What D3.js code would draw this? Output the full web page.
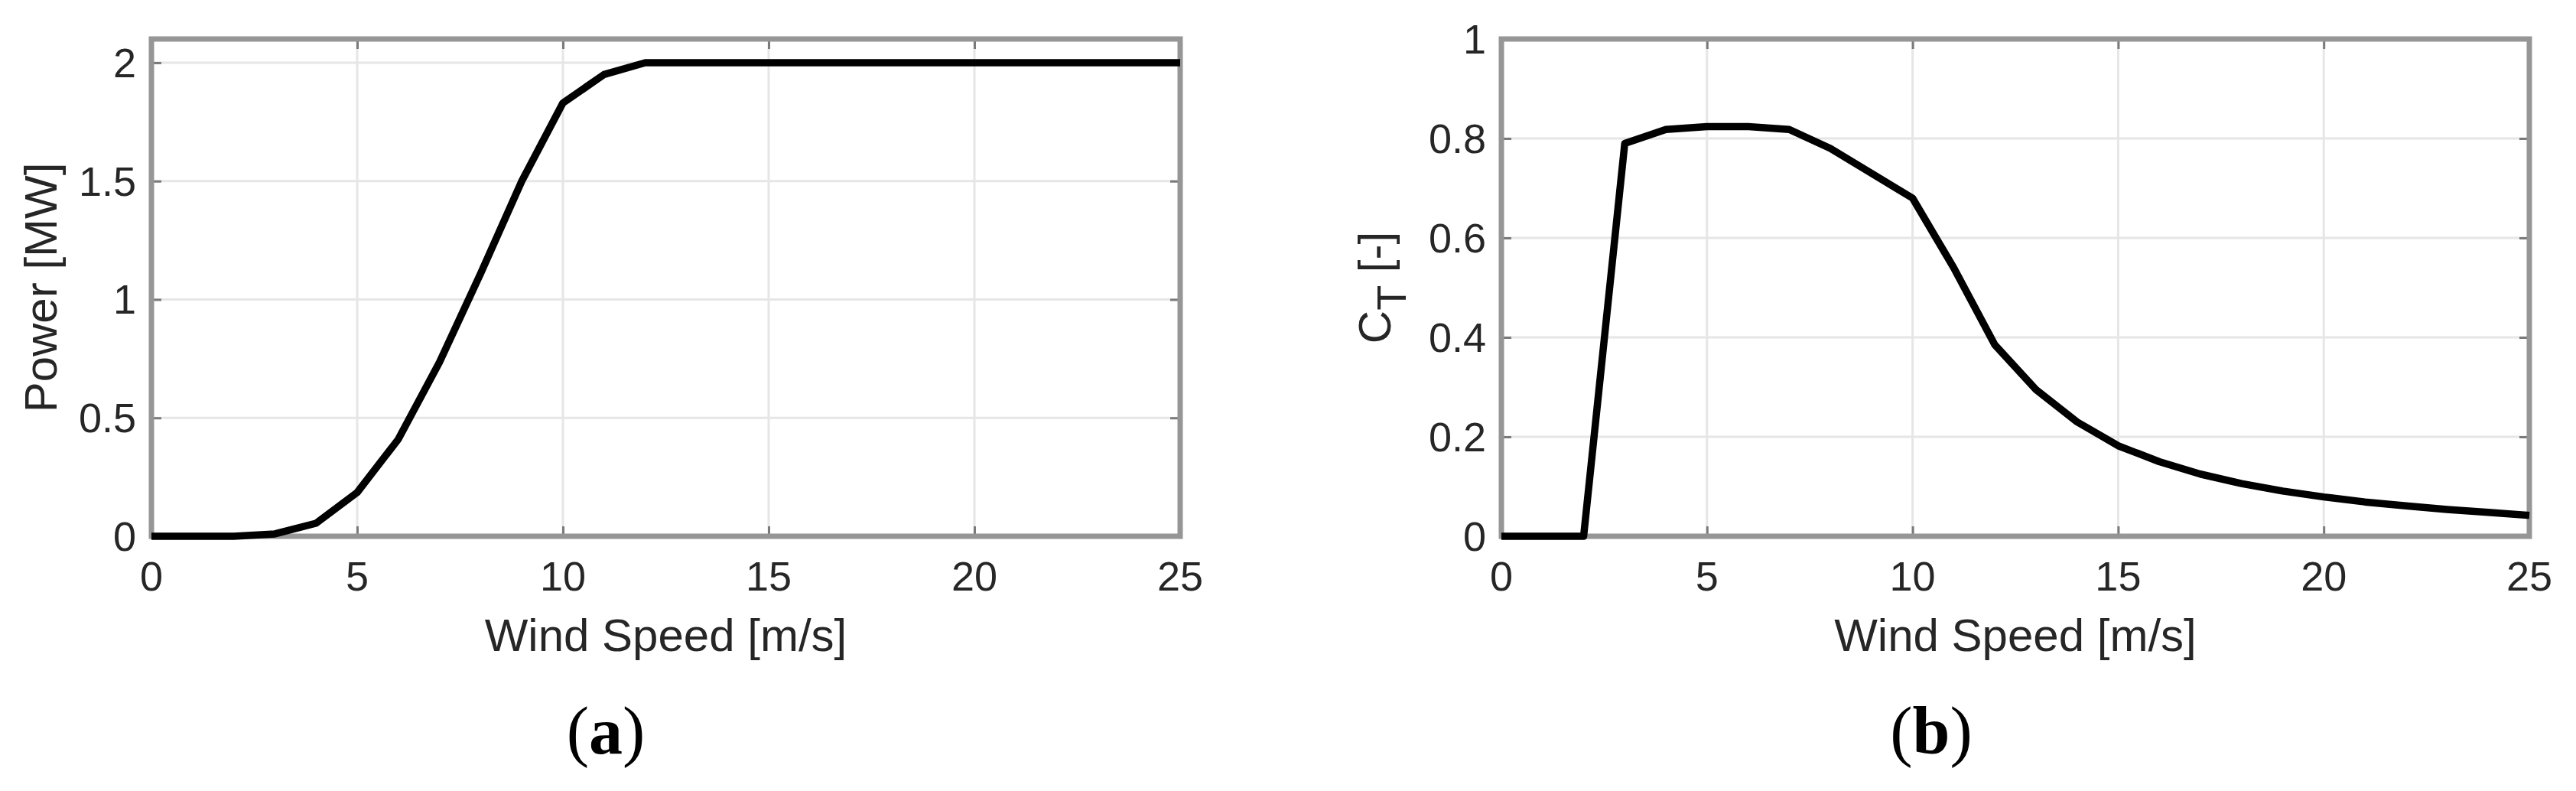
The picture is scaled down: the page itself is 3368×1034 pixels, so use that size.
<!DOCTYPE html>
<html>
<head>
<meta charset="utf-8">
<script src="https://cdn.jsdelivr.net/npm/d3@7"></script>
<style>
  body { margin: 0; background: #fff; }
  text { font-family: "Liberation Sans", Arial, sans-serif; fill: #262626; }
  .panel { font-family: "Liberation Serif", "Times New Roman", serif; font-weight: normal; fill: #000; }
  .panel tspan { font-weight: bold; }
</style>
</head>
<body>
<div id="vis"></div>
<script>
// data (integer wind speeds 0..25 m/s)
var windSpeed = d3.range(0, 26);
var power = [0, 0, 0, 0.01, 0.055, 0.185, 0.41, 0.735, 1.11, 1.5, 1.83, 1.95, 2,
             2, 2, 2, 2, 2, 2, 2, 2, 2, 2, 2, 2, 2];
var thrustCoef = [0, 0, 0, 0.79, 0.818, 0.824, 0.824, 0.818, 0.78, 0.73, 0.68, 0.54, 0.385,
                  0.295, 0.23, 0.182, 0.15, 0.125, 0.106, 0.091, 0.079, 0.069, 0.061, 0.054, 0.048, 0.042];
var xTicks = [0, 5, 10, 15, 20, 25];
var powerTicks = [0, 0.5, 1, 1.5, 2];
var ctTicks = [0, 0.2, 0.4, 0.6, 0.8, 1];

// Layout
var W = 3368, H = 1034;
var plotTop = 51, plotBottom = 701;

var svg = d3.select("#vis")
            .append("svg")
            .attr("width", W)
            .attr("height", H);

svg.append("rect").attr("width", W).attr("height", H).attr("fill", "#fff");

function drawPanel(opts) {
	var x = d3.scaleLinear().domain([0, 25]).range([opts.left, opts.right]);
	var y = d3.scaleLinear().domain([0, opts.ymax]).range([plotBottom, plotTop]);

	var g = svg.append("g");

	// grid
	g.selectAll(".vgrid").data(xTicks.slice(1, -1)).enter()
	 .append("line")
	 .attr("x1", x).attr("x2", x)
	 .attr("y1", plotTop).attr("y2", plotBottom)
	 .attr("stroke", "#e6e6e6").attr("stroke-width", 3);

	g.selectAll(".hgrid").data(opts.yTicks.filter(function(d) { return d > 0 && d < opts.ymax; })).enter()
	 .append("line")
	 .attr("x1", opts.left).attr("x2", opts.right)
	 .attr("y1", y).attr("y2", y)
	 .attr("stroke", "#e6e6e6").attr("stroke-width", 3);

	// ticks (inside)
	var xAxis = d3.axisBottom(x).tickValues(xTicks).tickSize(-13).tickFormat("");
	var xAxisTop = d3.axisTop(x).tickValues(xTicks).tickSize(-13).tickFormat("");
	var yAxis = d3.axisLeft(y).tickValues(opts.yTicks).tickSize(-13).tickFormat("");
	var yAxisRight = d3.axisRight(y).tickValues(opts.yTicks).tickSize(-13).tickFormat("");

	[g.append("g").attr("transform", "translate(0," + plotBottom + ")").call(xAxis),
	 g.append("g").attr("transform", "translate(0," + plotTop + ")").call(xAxisTop),
	 g.append("g").attr("transform", "translate(" + opts.left + ",0)").call(yAxis),
	 g.append("g").attr("transform", "translate(" + opts.right + ",0)").call(yAxisRight)]
	.forEach(function(a) {
		a.select(".domain").remove();
		a.selectAll(".tick line").attr("stroke", "#7a7a7a").attr("stroke-width", 3);
	});

	// data line
	var line = d3.line()
	             .x(function(d) { return x(d[0]); })
	             .y(function(d) { return y(d[1]); });

	var pts = windSpeed.map(function(v, i) { return [v, opts.values[i]]; });

	// box
	g.append("rect")
	 .attr("x", opts.left).attr("y", plotTop)
	 .attr("width", opts.right - opts.left)
	 .attr("height", plotBottom - plotTop)
	 .attr("fill", "none")
	 .attr("stroke", "#969696")
	 .attr("stroke-width", 7);

	g.append("path")
	 .datum(pts)
	 .attr("d", line)
	 .attr("fill", "none")
	 .attr("stroke", "#000")
	 .attr("stroke-width", 9.5)
	 .attr("stroke-linejoin", "round");

	// tick labels
	g.selectAll(".xlab").data(xTicks).enter()
	 .append("text")
	 .attr("x", x)
	 .attr("y", 772)
	 .attr("text-anchor", "middle")
	 .style("font-size", "54px")
	 .text(function(d) { return d; });

	g.selectAll(".ylab").data(opts.yTicks).enter()
	 .append("text")
	 .attr("x", opts.left - 20)
	 .attr("y", function(d) { return y(d) + 19; })
	 .attr("text-anchor", "end")
	 .style("font-size", "54px")
	 .text(function(d) { return d; });

	// axis titles
	var cx = (opts.left + opts.right) / 2;
	g.append("text")
	 .attr("x", cx)
	 .attr("y", 851)
	 .attr("text-anchor", "middle")
	 .style("font-size", "60px")
	 .text("Wind Speed [m/s]");

	var yl = g.append("text")
	          .attr("transform", "translate(" + opts.ylabelX + "," + ((plotTop + plotBottom) / 2) + ") rotate(-90)")
	          .attr("text-anchor", "middle")
	          .style("font-size", "60px");
	opts.ylabel(yl);

	// panel letter
	svg.append("text")
	   .attr("class", "panel")
	   .attr("x", opts.panelX)
	   .attr("y", 985)
	   .attr("text-anchor", "middle")
	   .style("font-size", "88px")
	   .html("(<tspan>" + opts.letter + "</tspan>)");
}

drawPanel({
	left: 198, right: 1543, ymax: 2.1,
	yTicks: powerTicks, values: power,
	ylabelX: 74, panelX: 792, letter: "a",
	ylabel: function(t) { t.text("Power [MW]"); }
});

drawPanel({
	left: 1963, right: 3307, ymax: 1,
	yTicks: ctTicks, values: thrustCoef,
	ylabelX: 1818, panelX: 2525, letter: "b",
	ylabel: function(t) {
		t.append("tspan").text("C");
		t.append("tspan").attr("dy", 20).style("font-size", "54px").text("T");
		t.append("tspan").attr("dy", -20).text(" [-]");
	}
});
</script>
</body>
</html>
